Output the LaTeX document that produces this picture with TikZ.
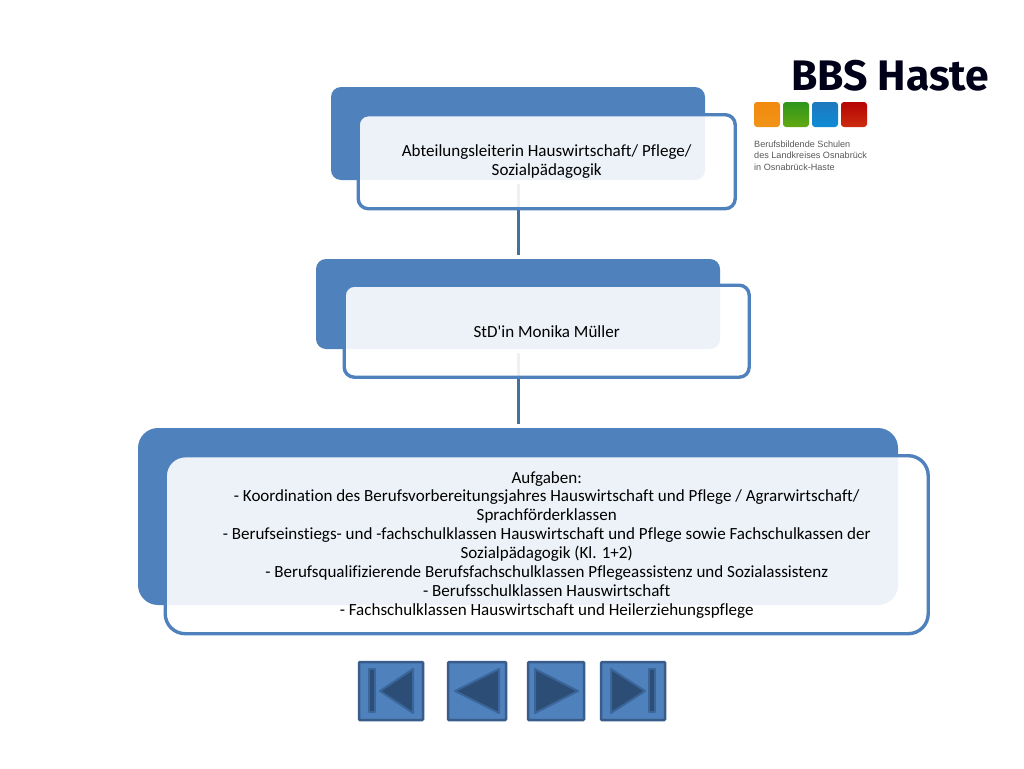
\documentclass[tikz,border=0pt]{standalone}
\usepackage{fontspec}
\newfontfamily\bodyfont[Ligatures=NoCommon]{Carlito}
\newfontfamily\logofont{Fira Sans}
\newfontfamily\logosmall{Liberation Sans}
\definecolor{boxblue}{HTML}{4F81BD}
\definecolor{linkblue}{HTML}{41719C}
\definecolor{btnedge}{HTML}{385D8A}
\definecolor{btndark}{HTML}{2C4D75}
\definecolor{btnmid}{HTML}{3A669A}
\definecolor{orangetop}{HTML}{F28A0E}
\definecolor{orangebot}{HTML}{F09418}
\definecolor{greentop}{HTML}{2E961C}
\definecolor{greenbot}{HTML}{62A812}
\definecolor{bluetop}{HTML}{1E78BE}
\definecolor{bluebot}{HTML}{0F8CD6}
\definecolor{redtop}{HTML}{B60404}
\definecolor{redbot}{HTML}{CC2C10}
\tikzset{
  backbox/.style={rectangle,fill=boxblue,draw=none,outer sep=0pt,inner sep=0pt},
  frontbox/.style={rectangle,draw=boxblue,line width=3.4pt,fill=white,fill opacity=0.9,text opacity=1,outer sep=0pt,inner sep=0pt,align=center,font=\bodyfont\fontsize{17.03}{18.9}\selectfont,text=black},
  linkline/.style={draw=linkblue,line width=3pt,shorten >=4pt,shorten <=4pt},
  navbtn/.style={rectangle,fill=boxblue,draw=btnedge,line width=2.5pt,outer sep=0pt,inner sep=0pt,rounded corners=1pt},
  navmark/.style={fill=btndark,draw=btnmid,line width=2pt,line join=round},
  swatch/.style={rectangle,rounded corners=3pt,minimum width=26pt,minimum height=25pt,inner sep=0pt,outer sep=0pt},
}
\begin{document}
\begin{tikzpicture}[x=1pt,y=-1pt]
\useasboundingbox (0,0) rectangle (1024,768);
\fill[white] (0,0) rectangle (1024,768);
% blue back boxes
\node[backbox,rounded corners=10pt,minimum width=374pt,minimum height=93pt] (a1) at (518,133.5) {};
\node[backbox,rounded corners=10pt,minimum width=404pt,minimum height=90pt] (a2) at (518,304) {};
\node[backbox,rounded corners=20pt,minimum width=760pt,minimum height=177pt] (a3) at (518,516.5) {};
% connectors
\draw[linkline] (a1.south) -- (a2.north);
\draw[linkline] (a2.south) -- (a3.north);
% front boxes
\node[frontbox,rounded corners=10pt,minimum width=377pt,minimum height=94pt] (b1) at (546.7,161.7)
 {Abteilungsleiterin Hauswirtschaft/ Pflege/\\Sozialpädagogik};
\node[frontbox,rounded corners=10pt,minimum width=405pt,minimum height=92pt] (b2) at (546.7,331.2)
 {StD'in Monika Müller};
\node[frontbox,rounded corners=20pt,minimum width=763pt,minimum height=178pt] (b3) at (546.7,544.7)
 {Aufgaben:\\
 - Koordination des Berufsvorbereitungsjahres Hauswirtschaft und Pflege / Agrarwirtschaft/\\
 Sprachförderklassen\\
 - Berufseinstiegs- und -fachschulklassen Hauswirtschaft und Pflege sowie Fachschulkassen der\\
 Sozialpädagogik (Kl. 1+2)\\
 - Berufsqualifizierende Berufsfachschulklassen Pflegeassistenz und Sozialassistenz\\
 - Berufsschulklassen Hauswirtschaft\\
 - Fachschulklassen Hauswirtschaft und Heilerziehungspflege};
% logo
\node[anchor=base west,inner sep=0pt,font=\logofont\bfseries\fontsize{42.7}{42}\selectfont,text=black!90!blue] (logo) at (791,90.5) {BBS Haste};
\node[swatch,top color=orangetop,bottom color=orangebot] (s1) at (767,114.5) {};
\node[swatch,top color=greentop,bottom color=greenbot] (s2) at (796,114.5) {};
\node[swatch,top color=bluetop,bottom color=bluebot] (s3) at (825,114.5) {};
\node[swatch,top color=redtop,bottom color=redbot] (s4) at (854,114.5) {};
\node[anchor=north west,inner sep=0pt,align=left,text=black!65,font=\logosmall\fontsize{9.1}{11.6}\selectfont] (logotext) at (754,140.5)
 {Berufsbildende Schulen\\des Landkreises Osnabrück\\in Osnabrück-Haste};
% navigation buttons
\node[navbtn,minimum width=64pt,minimum height=58pt] (n1) at (391,691) {};
\node[navbtn,minimum width=58pt,minimum height=58pt] (n2) at (477,691) {};
\node[navbtn,minimum width=56pt,minimum height=58pt] (n3) at (556,691) {};
\node[navbtn,minimum width=64pt,minimum height=58pt] (n4) at (633,691) {};
\draw[navmark] (369,669) rectangle (375,712);
\draw[navmark] (380,691) -- (413,669) -- (413,713) -- cycle;
\draw[navmark] (455,691) -- (499,669) -- (499,713) -- cycle;
\draw[navmark] (535,669) -- (578,691) -- (535,713) -- cycle;
\draw[navmark] (611,669) -- (645,691) -- (611,713) -- cycle;
\draw[navmark] (649,669) rectangle (655,712);
\end{tikzpicture}
\end{document}
